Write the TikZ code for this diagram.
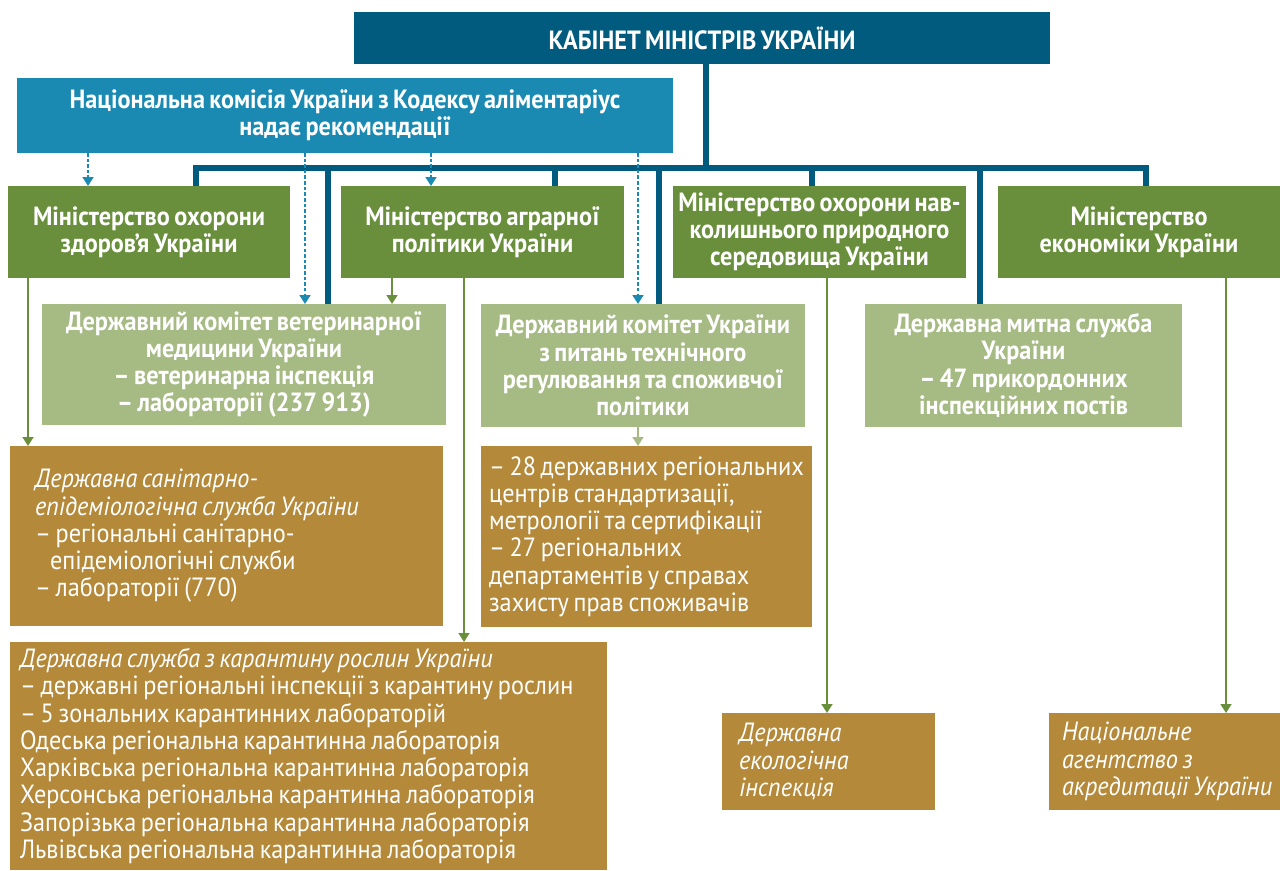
\documentclass[tikz,border=0pt]{standalone}
\usepackage{fontspec}
\setmainfont{PT Sans}[FakeStretch=0.92, WordSpace=0.72]
\usetikzlibrary{arrows.meta}

\definecolor{cabblue}{RGB}{0,91,126}
\definecolor{codexblue}{RGB}{27,138,179}
\definecolor{mingreen}{RGB}{106,143,60}
\definecolor{cmtgreen}{RGB}{166,186,132}
\definecolor{unitbrown}{RGB}{180,137,57}

\tikzset{
  wh/.style 2 args={minimum width=#1*0.02cm, minimum height=#2*0.02cm, anchor=north west},
  box/.style={inner sep=0pt, outer sep=0pt, text=white, align=center,
    font=\fontsize{15}{15.5}\selectfont\bfseries},
  cabbox/.style={box, fill=cabblue},
  codexbox/.style={box, fill=codexblue},
  minbox/.style={box, fill=mingreen},
  cmtbox/.style={box, fill=cmtgreen},
  unitbox/.style={box, fill=unitbrown, align=flush left,
    font=\fontsize{15}{15.5}\selectfont},
  bus/.style={draw=cabblue, line width=3.2pt},
  sub/.style={draw=mingreen, line width=1.4pt, -{Triangle[length=5pt,width=6pt]}},
  rec/.style={draw=codexblue, line width=1.3pt, dash pattern=on 2pt off 1.2pt,
    -{Triangle[length=5pt,width=6pt]}}
}

\begin{document}
\begin{tikzpicture}[x=0.02cm, y=-0.02cm]

\useasboundingbox (0,0) rectangle (1280,870);

% top
\node [cabbox, wh={696}{52}] (cab) at (354,12) {КАБІНЕТ МІНІСТРІВ УКРАЇНИ};
\node [codexbox, wh={656}{75}] (codex) at (17,78)
  {Національна комісія України з Кодексу аліментаріус\\надає рекомендації};

% ministries
\node [minbox, wh={282}{92}] (moz) at (8,186) {Міністерство охорони\\здоров’я України};
\node [minbox, wh={283}{92}] (mapu) at (341,186) {Міністерство аграрної\\політики України};
\node [minbox, wh={293}{92}] (mep) at (673,186)
  {Міністерство охорони нав-\\колишнього природного\\середовища України};
\node [minbox, wh={282}{92}] (mek) at (998,186) {Міністерство\\економіки України};

% committees
\node [cmtbox, wh={404}{121}] (vet) at (42,304)
  {Державний комітет ветеринарної\\медицини України\\– ветеринарна інспекція\\– лабораторії (237 913)};
\node [cmtbox, wh={324}{123}] (tech) at (481,304)
  {Державний комітет України\\з питань технічного\\регулювання та споживчої\\політики};
\node [cmtbox, wh={317}{123}] (customs) at (865,304)
  {Державна митна служба\\України\\– 47 прикордонних\\інспекційних постів};

% units
\node [unitbox, text width=7.66cm, wh={433}{180}] (ses) at (10,446)
  {\textit{Державна санітарно-}\\\textit{епідеміологічна служба України}\\– регіональні санітарно-\\\hspace*{0.3cm}епідеміологічні служби\\– лабораторії (770)};
\node [unitbox, text width=6.3cm, wh={331}{181}] (techunits) at (481,446)
  {– 28 державних регіональних\\центрів стандартизації,\\метрології та сертифікації\\– 27 регіональних\\департаментів у справах\\захисту прав споживачів};
\node [unitbox, text width=11.54cm, wh={597}{228}] (plant) at (10,642)
  {\textit{Державна служба з карантину рослин України}\\– державні регіональні інспекції з карантину рослин\\– 5 зональних карантинних лабораторій\\Одеська регіональна карантинна лабораторія\\Харківська регіональна карантинна лабораторія\\Херсонська регіональна карантинна лабораторія\\Запорізька регіональна карантинна лабораторія\\Львівська регіональна карантинна лабораторія};
\node [unitbox, text width=3.58cm, font=\fontsize{15}{15.5}\selectfont\itshape,
  wh={213}{97}] (eco) at (722,713) {Державна\\екологічна\\інспекція};
\node [unitbox, text width=4.1cm, font=\fontsize{15}{15.5}\selectfont\itshape,
  wh={231}{97}] (accr) at (1049,713) {Національне\\агентство з\\\mbox{акредитації України}};

% bus from the cabinet
\coordinate (top) at (706,168);
\coordinate (b1) at (196,168);
\coordinate (b2) at (328,168);
\coordinate (b3) at (555,168);
\coordinate (b4) at (659,168);
\coordinate (b5) at (812,168);
\coordinate (b6) at (980,168);
\coordinate (b7) at (1146,168);

\draw [bus] (cab.south -| top) -- (top);
\draw [bus] (b1 |- moz.north) -- (b1) -- (b7) -- (b7 |- mek.north);
\foreach \b/\n in {b2/vet, b3/mapu, b4/tech, b5/mep, b6/customs}
  \draw [bus] (\b) -- (\b |- \n.north);

% recommendations
\coordinate (r1) at (88,0);
\coordinate (r2) at (305,0);
\coordinate (r3) at (431,0);
\coordinate (r4) at (638,0);
\foreach \r/\n in {r1/moz, r2/vet, r3/mapu, r4/tech}
  \draw [rec] (codex.south -| \r) -- (\r |- \n.north);

% subordination
\coordinate (g1) at (28,0);
\coordinate (g2) at (392,0);
\coordinate (g3) at (464,0);
\coordinate (g4) at (638,0);
\coordinate (g5) at (827,0);
\coordinate (g6) at (1226,0);
\draw [sub] (moz.south -| g1) -- (g1 |- ses.north);
\draw [sub] (mapu.south -| g2) -- (g2 |- vet.north);
\draw [sub] (mapu.south -| g3) -- (g3 |- plant.north);
\draw [sub, draw=cmtgreen] (tech.south -| g4) -- (g4 |- techunits.north);
\draw [sub] (mep.south -| g5) -- (g5 |- eco.north);
\draw [sub] (mek.south -| g6) -- (g6 |- accr.north);

\end{tikzpicture}
\end{document}
